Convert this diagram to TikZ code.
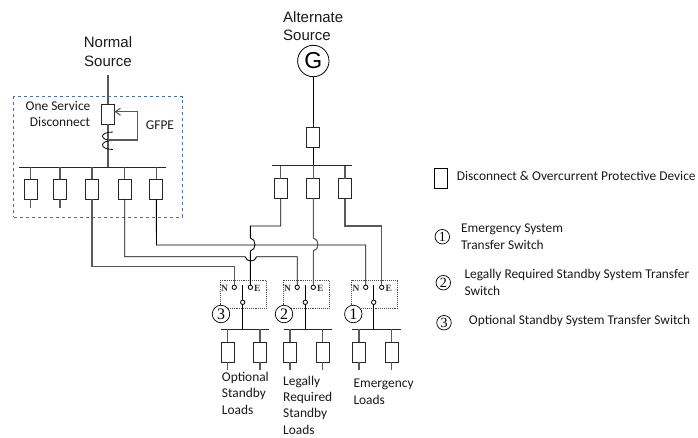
\documentclass[tikz,border=0pt]{standalone}
\usepackage{fontspec}
\setmainfont{Carlito}
\newfontfamily\arialf{Liberation Sans}
\newfontfamily\timesf{Liberation Serif}
\usetikzlibrary{arrows.meta}
\definecolor{encblue}{HTML}{4A6FA5}
\tikzset{
  x=1pt,y=-1pt,
  wire/.style={draw=black,line width=0.9pt},
  gwire/.style={draw=black!65,line width=1.1pt},
  devbox/.style={draw=black!85,line width=0.9pt,rectangle,minimum width=13pt,minimum height=20pt,inner sep=0pt,outer sep=0pt},
  busbar/.style={draw=black!85,line width=1pt},
  contact/.style={draw=black,line width=0.8pt,circle,fill=white,minimum size=4.4pt,inner sep=0pt,outer sep=0pt},
  tsbox/.style={draw=black!70,line width=0.9pt,densely dotted,rectangle,minimum width=46pt,minimum height=28pt,inner sep=0pt},
  numc/.style={draw=black,line width=0.7pt,circle,fill=white,minimum size=17.5pt,inner sep=0pt,font=\timesf\fontsize{16}{16}\selectfont},
  numl/.style={draw=black,line width=0.7pt,circle,minimum size=14.5pt,inner sep=0pt,font=\timesf\fontsize{14}{14}\selectfont},
  lab/.style={inner sep=0pt,font=\fontsize{13.4}{13.4}\selectfont,anchor=west,text=black!90},
  srclab/.style={inner sep=0pt,font=\arialf\fontsize{15}{15}\selectfont,text=black!90},
  nelab/.style={inner sep=0pt,font=\timesf\bfseries\fontsize{9.5}{9.5}\selectfont,text=black!80},
}
\begin{document}
\begin{tikzpicture}
\useasboundingbox (0,0) rectangle (698,437);
% texts: sources
\node[srclab] (tn1) at (108,42) {Normal};
\node[srclab] (tn2) at (108,61) {Source};
\node[srclab,anchor=west] (ta1) at (283,17) {Alternate};
\node[srclab,anchor=west] (ta2) at (283,35) {Source};
% service enclosure
\node[draw=encblue,dashed,line width=0.9pt,rectangle,minimum width=168.3pt,minimum height=120.3pt,inner sep=0pt] (enc) at (97.85,156.85) {};
\node[lab,anchor=center] (os1) at (58,106) {One Service};
\node[lab,anchor=center] (os2) at (60,121.5) {Disconnect};
\node[lab,anchor=center] (gf) at (160,125) {GFPE};
% normal side
\coordinate (ntop) at (108,75);
\node[devbox] (nm) at (108,114.3) {};
\coordinate (cs) at (108,131.5);
\coordinate (ce) at (108,152);
\coordinate (nb1) at (19,167);
\coordinate (nb2) at (166,167);
\coordinate (nbj) at (108,167);
\draw[gwire] (ntop) -- (nm.north);
\draw[gwire] (nm.south) -- (nbj);
\draw[busbar] (nb1) -- (nb2);
% coil
\draw[black,line width=0.8pt] (113,132) .. controls (99,132) and (99,140.5) .. (113,140.5);
\draw[black,line width=0.8pt] (113,140.5) .. controls (99,140.5) and (99,149.5) .. (113,149.5);
% GFPE loop
\coordinate (g1) at (137.7,111.7);
\coordinate (g2) at (137.7,140);
\coordinate (g3) at (108,140);
\draw[gwire,-{Straight Barb[length=5pt,width=7pt]}] (g3) -- (g2) -- (g1) -- (nm.east |- g1);
% normal feeders
\foreach \n/\x in {a/30.7,b/60,c/92,d/124.7,e/156.3}{
  \node[devbox] (n\n) at (\x,189.3) {};
  \coordinate (nt\n) at (\x,167);
  \draw[gwire] (nt\n) -- (n\n.north);
}
\coordinate (sa) at (30.7,208);
\coordinate (sb) at (60,208);
\draw[gwire] (na.south) -- (sa);
\draw[gwire] (nb.south) -- (sb);
% alternate side
\node[draw=black,line width=0.8pt,circle,minimum size=31.4pt,inner sep=0pt,font=\arialf\fontsize{23}{23}\selectfont] (gen) at (313.3,61) {G};
\node[devbox] (am) at (313.3,137) {};
\coordinate (ab1) at (272,165.5);
\coordinate (ab2) at (352,165.5);
\coordinate (abj) at (313.3,165.5);
\draw[wire] (gen.south) -- (am.north);
\draw[wire] (am.south) -- (abj);
\draw[busbar] (ab1) -- (ab2);
\foreach \n/\x in {a/280.7,b/313.3,c/345}{
  \node[devbox] (a\n) at (\x,188.5) {};
  \coordinate (at\n) at (\x,165.5);
  \draw[gwire] (at\n) -- (a\n.north);
}
% transfer switches
\foreach \i/\bx/\nx/\ex/\jx/\cx/\ba/\bb/\fa/\fb in {
 3/243.3/234.3/250.4/242.7/221/221/269.3/227.7/260,
 2/306/297.2/313.3/305.3/284/284/331.7/290/322.7,
 1/374.7/365.7/381.7/373.7/353.3/352.3/400.7/359/391.7}{
  \node[tsbox] (ts\i) at (\bx,294) {};
  \node[nelab] (nl\i) at (\nx-9.7,288.5) {N};
  \node[nelab] (el\i) at (\ex+7,288.5) {E};
  \coordinate (bt\i) at (\jx,285);
  \coordinate (bbj\i) at (\jx,329.3);
  \node[contact] (j\i) at (\jx,302.3) {};
  \draw[wire] (bt\i) -- (j\i.north);
  \draw[wire] (j\i.south) -- (bbj\i);
  \node[contact] (cn\i) at (\nx,287.3) {};
  \node[contact] (ce\i) at (\ex,287.3) {};
  \node[numc] (c\i) at (\cx,314) {\i};
  \coordinate (bl\i) at (\ba,329.3);
  \coordinate (br\i) at (\bb,329.3);
  \draw[busbar] (bl\i) -- (br\i);
  \node[devbox] (la\i) at (\fa,352) {};
  \node[devbox] (lb\i) at (\fb,352) {};
  \coordinate (lta\i) at (\fa,329.3);
  \coordinate (ltb\i) at (\fb,329.3);
  \coordinate (lsa\i) at (\fa,370);
  \coordinate (lsb\i) at (\fb,370);
  \draw[gwire] (lta\i) -- (la\i.north);
  \draw[gwire] (ltb\i) -- (lb\i.north);
  \draw[gwire] (la\i.south) -- (lsa\i);
  \draw[gwire] (lb\i.south) -- (lsb\i);
}
% normal feeders to N contacts
\coordinate (w1) at (92,266.7);
\draw[gwire] (nc.south) -- (w1) -- (w1 -| cn3) -- (cn3.north);
\coordinate (w2) at (124.7,256.7);
\coordinate (w2a) at (245,256.7);
\coordinate (w2b) at (256.7,256.7);
\draw[wire] (nd.south) -- (w2) -- (w2a) .. controls (247,262.5) and (254.7,262.5) .. (w2b) -- (w2b -| cn2) -- (cn2.north);
\coordinate (w3) at (156.5,245);
\draw[wire] (ne.south) -- (w3) -- (w3 -| cn1) -- (cn1.north);
% alternate feeders to E contacts
\coordinate (e3a) at (250.4,226);
\coordinate (e3b) at (250.4,238);
\coordinate (e3c) at (250.4,251);
\draw[wire] (aa.south) |- (e3a) -- (e3b) .. controls (256.5,239) and (256.5,250) .. (e3c) -- (ce3.north);
\coordinate (e2b) at (313.3,238);
\coordinate (e2c) at (313.3,251);
\draw[gwire] (ab.south) -- (e2b) .. controls (319.5,239) and (319.5,250) .. (e2c) -- (ce2.north);
\coordinate (e1a) at (345,226);
\draw[gwire] (ac.south) -- (e1a) -| (ce1.north);
% load labels
\node[lab] (o1) at (221.7,378) {Optional};
\node[lab] (o2) at (221.7,394) {Standby};
\node[lab] (o3) at (221.7,410) {Loads};
\node[lab] (r1) at (283,382) {Legally};
\node[lab] (r2) at (283,398) {Required};
\node[lab] (r3) at (283,414) {Standby};
\node[lab] (r4) at (283,430) {Loads};
\node[lab] (m1) at (353.3,384) {Emergency};
\node[lab] (m2) at (353.3,400) {Loads};
% legend
\node[devbox,draw=black] (lg) at (440.8,178) {};
\node[lab] (lgt) at (456.7,176) {Disconnect \& Overcurrent Protective Device};
\node[numl] (l1) at (442.3,236.7) {1};
\node[lab] (l1a) at (461,229.3) {Emergency System};
\node[lab] (l1b) at (461,245) {Transfer Switch};
\node[numl] (l2) at (443.3,282.7) {2};
\node[lab] (l2a) at (464.3,275) {Legally Required Standby System Transfer};
\node[lab] (l2b) at (464.3,290.7) {Switch};
\node[numl] (l3) at (444,322.7) {3};
\node[lab] (l3a) at (468.7,321) {Optional Standby System Transfer Switch};
\end{tikzpicture}
\end{document}
